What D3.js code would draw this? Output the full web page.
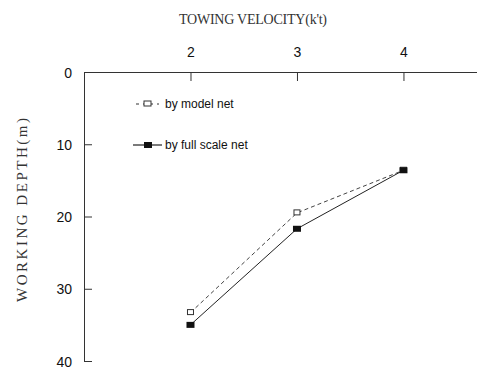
<!DOCTYPE html>
<html>
<head>
<script src="https://d3js.org/d3.v7.min.js"></script>
<style>
  body { margin: 0; background: #fff; }
</style>
</head>
<body>
<div id="chart"></div>
<script>
// towing velocity (knots) vs working depth (m)
var velocity = [2, 3, 4];
var modelNet = [33.3, 19.5, 13.6];
var fullScaleNet = [35.0, 21.7, 13.6];
var depthTicks = [0, 10, 20, 30, 40];
var seriesNames = ["by model net", "by full scale net"];

var width = 477, height = 370;

var svg = d3.select("#chart").append("svg")
    .attr("width", width)
    .attr("height", height);

var x = d3.scaleLinear().domain([1, 4.7]).range([84, 478]);
var y = d3.scaleLinear().domain([0, 40]).range([72, 361]);

var xAxis = svg.append("g")
    .attr("transform", "translate(0," + y(0) + ")")
    .call(d3.axisTop(x).tickValues(velocity).tickFormat(d3.format("d"))
        .tickSizeInner(-9).tickSizeOuter(0).tickPadding(15));

var yAxis = svg.append("g")
    .attr("transform", "translate(" + x(1) + ",0)")
    .call(d3.axisLeft(y).tickValues(depthTicks)
        .tickSizeInner(-8).tickSizeOuter(0).tickPadding(12));

svg.selectAll(".domain, .tick line").attr("stroke", "#333").attr("stroke-width", 1);
svg.selectAll(".tick text")
    .attr("font-family", "Liberation Sans, Arial, sans-serif")
    .attr("font-size", 14)
    .attr("fill", "#111");
yAxis.selectAll(".tick text").attr("dy", "0.36em");

// titles
svg.append("text")
    .attr("x", 179).attr("y", 24)
    .attr("font-family", "Liberation Serif, serif")
    .attr("font-size", 14)
    .attr("textLength", 148)
    .attr("lengthAdjust", "spacing")
    .attr("fill", "#333")
    .text("TOWING VELOCITY(k't)");

svg.append("text")
    .attr("transform", "translate(27,302) rotate(-90)")
    .attr("font-family", "Liberation Serif, serif")
    .attr("font-size", 15)
    .attr("textLength", 184)
    .attr("lengthAdjust", "spacing")
    .attr("fill", "#333")
    .text("WORKING DEPTH(m)");

var modelData = velocity.map(function (v, i) { return [v, modelNet[i]]; });
var fullData = velocity.map(function (v, i) { return [v, fullScaleNet[i]]; });

var line = d3.line()
    .x(function (d) { return x(d[0]); })
    .y(function (d) { return y(d[1]); });

svg.append("path")
    .datum(modelData)
    .attr("fill", "none")
    .attr("stroke", "#444")
    .attr("stroke-width", 1)
    .attr("stroke-dasharray", "4,3")
    .attr("d", line);

svg.append("path")
    .datum(fullData)
    .attr("fill", "none")
    .attr("stroke", "#222")
    .attr("stroke-width", 1)
    .attr("d", line);

svg.selectAll(".model-pt")
    .data(modelData)
    .enter().append("rect")
    .attr("class", "model-pt")
    .attr("x", function (d) { return x(d[0]) - 3; })
    .attr("y", function (d) { return y(d[1]) - 3; })
    .attr("width", 6).attr("height", 5)
    .attr("fill", "#fff")
    .attr("stroke", "#333")
    .attr("stroke-width", 1);

svg.selectAll(".full-pt")
    .data(fullData)
    .enter().append("rect")
    .attr("class", "full-pt")
    .attr("x", function (d) { return x(d[0]) - 4; })
    .attr("y", function (d) { return y(d[1]) - 3; })
    .attr("width", 8).attr("height", 6)
    .attr("fill", "#111");

// legend
var legend = svg.append("g");
var legendY = [104, 145];

legend.append("line")
    .attr("x1", 136).attr("x2", 159)
    .attr("y1", legendY[0]).attr("y2", legendY[0])
    .attr("stroke", "#333").attr("stroke-dasharray", "3,4");
legend.append("rect")
    .attr("x", 144).attr("y", legendY[0] - 3)
    .attr("width", 7).attr("height", 5)
    .attr("fill", "#fff").attr("stroke", "#333");

legend.append("line")
    .attr("x1", 133).attr("x2", 162)
    .attr("y1", legendY[1]).attr("y2", legendY[1])
    .attr("stroke", "#222").attr("stroke-width", 1.2);
legend.append("rect")
    .attr("x", 144).attr("y", legendY[1] - 3)
    .attr("width", 8).attr("height", 6)
    .attr("fill", "#111");

legend.selectAll("text")
    .data(seriesNames)
    .enter().append("text")
    .attr("x", 165)
    .attr("y", function (d, i) { return legendY[i]; })
    .attr("dy", "0.35em")
    .attr("font-family", "Liberation Sans, Arial, sans-serif")
    .attr("font-size", 12)
    .attr("fill", "#111")
    .text(function (d) { return d; });
</script>
</body>
</html>
